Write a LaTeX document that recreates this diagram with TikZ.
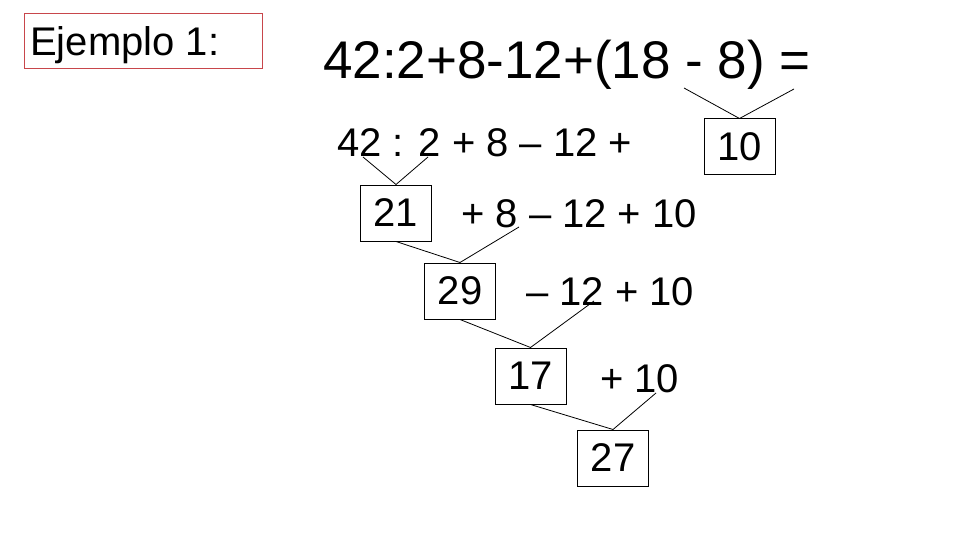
\documentclass[tikz,border=0pt]{standalone}
\usepackage{fontspec}
\setmainfont{Liberation Sans}
\definecolor{boxred}{RGB}{200,70,75}
\begin{document}
\begin{tikzpicture}[x=1pt,y=-1pt,
  resbox/.style={draw=black,line width=1pt,minimum width=71pt,minimum height=56pt,inner sep=0pt,font=\fontsize{40}{46}\selectfont},
  expr/.style={anchor=base west,inner sep=0pt,font=\fontsize{40}{46}\selectfont},
  link/.style={draw=black,line width=0.8pt}]
\useasboundingbox (0,0) rectangle (960,540);
% title box
\node[draw=boxred,line width=1pt,minimum width=238pt,minimum height=55pt,inner sep=0pt] (ej) at (143,41.5) {};
\node[anchor=base west,inner sep=0pt,font=\fontsize{40}{46}\selectfont] (ejt) at (30,56) {Ejemplo 1:};
% main expression
\node[anchor=base west,inner sep=0pt,font=\fontsize{53}{60}\selectfont] (main) at (323,79) {42:2+8-12+(18 - 8) =};
% step lines
\node[expr] (l2) at (337,157) {42 : 2 + 8 – 12 +};
\node[expr] (l3) at (461,227) {+ 8 – 12 + 10};
\node[expr] (l4) at (526,305) {– 12 + 10};
\node[expr] (l5) at (600,392) {+ 10};
% result boxes
\node[resbox] (b10) at (739.5,147) {10};
\node[resbox] (b21) at (396,213) {21};
\node[resbox] (b29) at (460,291) {29};
\node[resbox] (b17) at (530.5,376) {17};
\node[resbox] (b27) at (613,458) {27};
% free ends
\coordinate (pa) at (684,88);
\coordinate (pb) at (794,89);
\coordinate (qa) at (363,157);
\coordinate (qb) at (428,157);
\coordinate (r8) at (519,227);
\coordinate (s12) at (594,301);
\coordinate (t10) at (656,393);
% connectors
\draw[link] (pa) -- (b10.north) -- (pb);
\draw[link] (qa) -- (b21.north) -- (qb);
\draw[link] (b21.south) -- (b29.north) -- (r8);
\draw[link] (b29.south) -- (b17.north) -- (s12);
\draw[link] (b17.south) -- (b27.north) -- (t10);
\end{tikzpicture}
\end{document}
